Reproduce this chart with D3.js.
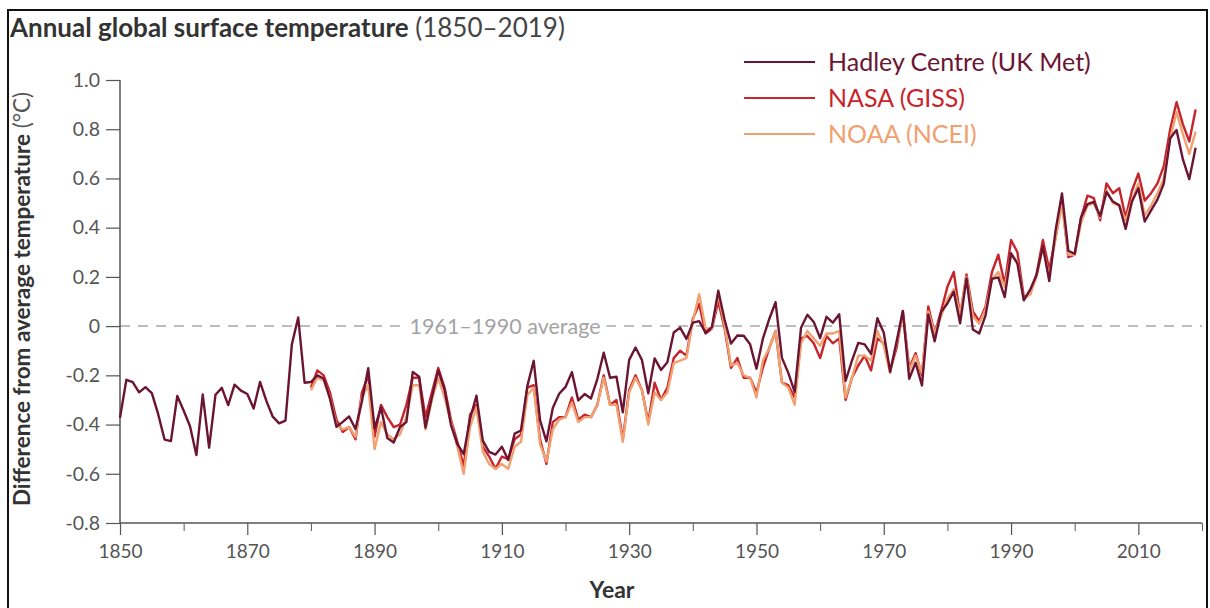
<!DOCTYPE html>
<html><head><meta charset="utf-8">
<script src="https://cdn.jsdelivr.net/npm/d3@7"></script>
<style>
html,body{margin:0;padding:0;background:#fff;}
svg{display:block;font-family:Lato,"Noto Sans",sans-serif;}
</style></head>
<body>
<svg id="chart" width="1210" height="608"></svg>
<script>
// ---- data ----
const hadleyStart = 1850;
const hadley = [-0.373,-0.218,-0.228,-0.269,-0.248,-0.272,-0.358,-0.461,-0.467,-0.284,
-0.343,-0.407,-0.524,-0.278,-0.494,-0.279,-0.251,-0.321,-0.238,-0.262,
-0.276,-0.335,-0.227,-0.304,-0.368,-0.395,-0.384,-0.075,0.035,-0.230,
-0.227,-0.200,-0.213,-0.296,-0.409,-0.389,-0.367,-0.418,-0.307,-0.171,
-0.416,-0.330,-0.455,-0.473,-0.410,-0.390,-0.186,-0.206,-0.412,-0.289,
-0.180,-0.259,-0.402,-0.479,-0.520,-0.377,-0.283,-0.465,-0.511,-0.522,
-0.490,-0.544,-0.437,-0.424,-0.244,-0.141,-0.383,-0.468,-0.333,-0.275,
-0.247,-0.187,-0.302,-0.276,-0.294,-0.215,-0.108,-0.210,-0.206,-0.350,
-0.137,-0.087,-0.137,-0.273,-0.131,-0.178,-0.147,-0.026,-0.006,-0.052,
0.014,0.020,-0.027,-0.004,0.144,0.025,-0.071,-0.038,-0.039,-0.074,
-0.173,-0.052,0.028,0.097,-0.129,-0.190,-0.267,-0.007,0.046,0.017,
-0.049,0.038,0.014,0.048,-0.223,-0.140,-0.068,-0.074,-0.113,0.032,
-0.027,-0.186,-0.065,0.062,-0.214,-0.149,-0.241,0.047,-0.062,0.057,
0.092,0.140,0.011,0.194,-0.014,-0.030,0.045,0.192,0.198,0.118,
0.296,0.254,0.105,0.148,0.208,0.325,0.183,0.390,0.539,0.306,
0.294,0.441,0.496,0.505,0.447,0.545,0.506,0.491,0.395,0.506,
0.560,0.425,0.470,0.514,0.579,0.763,0.797,0.677,0.597,0.725];

const nasaStart = 1880;
const nasa = [-0.25,-0.18,-0.20,-0.27,-0.38,-0.43,-0.41,-0.46,-0.27,-0.20,
-0.45,-0.32,-0.37,-0.41,-0.40,-0.32,-0.21,-0.21,-0.37,-0.27,
-0.17,-0.25,-0.38,-0.47,-0.57,-0.36,-0.32,-0.49,-0.53,-0.58,
-0.53,-0.54,-0.46,-0.44,-0.25,-0.24,-0.46,-0.56,-0.39,-0.37,
-0.37,-0.29,-0.38,-0.36,-0.37,-0.32,-0.20,-0.32,-0.30,-0.46,
-0.26,-0.20,-0.26,-0.39,-0.23,-0.30,-0.25,-0.13,-0.10,-0.12,
0.03,0.09,-0.03,-0.01,0.10,-0.01,-0.17,-0.13,-0.21,-0.21,
-0.27,-0.17,-0.09,-0.02,-0.23,-0.24,-0.29,-0.05,-0.04,-0.07,
-0.13,-0.04,-0.07,-0.05,-0.30,-0.21,-0.16,-0.12,-0.18,-0.05,
-0.07,-0.18,-0.09,0.06,-0.17,-0.11,-0.20,0.08,-0.03,0.06,
0.16,0.22,0.04,0.21,0.06,0.02,0.08,0.22,0.29,0.17,
0.35,0.30,0.12,0.13,0.21,0.35,0.23,0.36,0.51,0.28,
0.29,0.44,0.53,0.52,0.43,0.58,0.54,0.56,0.44,0.55,
0.62,0.51,0.54,0.58,0.65,0.80,0.91,0.82,0.75,0.88];

const noaaStart = 1880;
const noaa = [-0.26,-0.21,-0.22,-0.29,-0.40,-0.42,-0.41,-0.45,-0.29,-0.24,
-0.50,-0.39,-0.44,-0.46,-0.44,-0.37,-0.24,-0.24,-0.42,-0.30,
-0.21,-0.29,-0.39,-0.49,-0.60,-0.41,-0.33,-0.51,-0.56,-0.58,
-0.56,-0.58,-0.49,-0.47,-0.28,-0.25,-0.48,-0.55,-0.42,-0.38,
-0.37,-0.31,-0.39,-0.37,-0.37,-0.32,-0.21,-0.32,-0.32,-0.47,
-0.27,-0.21,-0.26,-0.40,-0.27,-0.30,-0.27,-0.15,-0.14,-0.13,
0.02,0.13,-0.01,-0.01,0.13,0.00,-0.16,-0.15,-0.20,-0.21,
-0.29,-0.14,-0.09,-0.02,-0.23,-0.25,-0.32,-0.07,-0.02,-0.05,
-0.08,-0.03,-0.03,-0.02,-0.29,-0.21,-0.12,-0.12,-0.14,-0.02,
-0.08,-0.19,-0.07,0.05,-0.18,-0.12,-0.19,0.06,-0.03,0.04,
0.11,0.15,0.05,0.20,0.04,0.01,0.07,0.19,0.22,0.16,
0.29,0.26,0.11,0.13,0.20,0.32,0.20,0.36,0.49,0.29,
0.29,0.42,0.49,0.50,0.44,0.55,0.50,0.49,0.43,0.51,
0.58,0.45,0.49,0.54,0.60,0.76,0.87,0.78,0.70,0.79];

const seriesNames = ["Hadley Centre (UK Met)", "NASA (GISS)", "NOAA (NCEI)"];
const seriesColors = ["#6b1533", "#c8242c", "#f1a06f"];
const yTicks = [-0.8,-0.6,-0.4,-0.2,0,0.2,0.4,0.6,0.8,1.0];
const yTickLabels = ["-0.8","-0.6","-0.4","-0.2","0","0.2","0.4","0.6","0.8","1.0"];
const xMajorTicks = [1850,1870,1890,1910,1930,1950,1970,1990,2010];
const xMinorTicks = [1860,1880,1900,1920,1940,1960,1980,2000,2020];

// ---- chart ----
const svg = d3.select("#chart");
const x = d3.scaleLinear().domain([1850, 2020]).range([120, 1202]);
const y = d3.scaleLinear().domain([-0.8, 1.0]).range([523, 80]);

// frame
svg.append("rect").attr("x",8).attr("y",10).attr("width",1199).attr("height",640)
  .attr("fill","none").attr("stroke","#111").attr("stroke-width",2);

// title
const title = svg.append("text").attr("x",10).attr("y",37)
  .attr("font-size",26).attr("fill","#333");
title.append("tspan").attr("font-weight","bold").text("Annual global surface temperature");
title.append("tspan").attr("font-weight","normal").attr("fill","#444").text(" (1850\u20132019)");

// zero line
svg.append("line").attr("x1",x(1850)).attr("x2",x(2020)).attr("y1",y(0)).attr("y2",y(0))
  .attr("stroke","#bdbdbd").attr("stroke-width",2).attr("stroke-dasharray","10,8");
const avgLbl = svg.append("text").attr("x",505).attr("y",y(0)+8)
  .attr("text-anchor","middle").attr("font-size",21.5).attr("fill","#a3a3a3")
  .text("1961\u20131990 average");
const bb = avgLbl.node().getBBox();
svg.append("rect").attr("x",bb.x-6).attr("y",bb.y).attr("width",bb.width+12).attr("height",bb.height)
  .attr("fill","#fff");
avgLbl.raise();

// axes
const yAxis = d3.axisLeft(y).tickValues(yTicks).tickSize(14).tickPadding(6)
  .tickFormat((d,i)=>yTickLabels[i]);
const gy = svg.append("g").attr("transform",`translate(${x(1850)},0)`).call(yAxis);
gy.select(".domain").attr("stroke","#555").attr("stroke-width",1.5).attr("d",`M0,${y(1.0)}V${y(-0.8)}`);
gy.selectAll(".tick line").attr("stroke","#555").attr("stroke-width",1.2);
gy.selectAll(".tick text").attr("font-size",19.5).attr("fill","#555").attr("font-family","Lato,sans-serif");

const xAxis = d3.axisBottom(x).tickValues(xMajorTicks).tickSize(12).tickPadding(10).tickFormat(d3.format("d"));
const gx = svg.append("g").attr("transform",`translate(0,${y(-0.8)})`).call(xAxis);
gx.select(".domain").attr("stroke","#555").attr("stroke-width",1.5).attr("d",`M${x(1850)},0H${x(2020)}`);
gx.selectAll(".tick line").attr("stroke","#555").attr("stroke-width",1.2);
gx.selectAll(".tick text").attr("font-size",19).attr("fill","#555").attr("font-family","Lato,sans-serif");
const xAxisMinor = d3.axisBottom(x).tickValues(xMinorTicks).tickSize(8).tickFormat("");
const gxm = svg.append("g").attr("transform",`translate(0,${y(-0.8)})`).call(xAxisMinor);
gxm.select(".domain").remove();
gxm.selectAll(".tick line").attr("stroke","#666").attr("stroke-width",1.1);

// axis titles
svg.append("text").attr("x",612).attr("y",598).attr("text-anchor","middle")
  .attr("font-size",23).attr("font-weight","bold").attr("fill","#333").text("Year");
const yt = svg.append("text").attr("transform","translate(30,299) rotate(-90)")
  .attr("text-anchor","middle").attr("font-size",22.5).attr("fill","#333");
yt.append("tspan").attr("font-weight","bold").text("Difference from average temperature");
yt.append("tspan").attr("font-weight","normal").attr("fill","#555").text(" (\u00b0C)");

// lines
const line = d3.line().x(d=>x(d.year)).y(d=>y(d.value));
function toPts(start, vals){ return vals.map((v,i)=>({year:start+i, value:v})); }
const series = [
  {name:seriesNames[1], color:seriesColors[1], pts:toPts(nasaStart, nasa)},
  {name:seriesNames[2], color:seriesColors[2], pts:toPts(noaaStart, noaa)},
  {name:seriesNames[0], color:seriesColors[0], pts:toPts(hadleyStart, hadley)}
];
svg.append("g").selectAll("path").data(series).join("path")
  .attr("d",d=>line(d.pts)).attr("fill","none").attr("stroke",d=>d.color)
  .attr("stroke-width",2.4).attr("stroke-linejoin","round");

// legend
const lg = svg.append("g");
seriesNames.forEach((n,i)=>{
  const yy = 62 + i*36;
  lg.append("line").attr("x1",744).attr("x2",815).attr("y1",yy).attr("y2",yy)
    .attr("stroke",seriesColors[i]).attr("stroke-width",2.2);
  lg.append("text").attr("x",828).attr("y",yy+9).attr("font-size",25)
    .attr("fill",seriesColors[i]).text(n);
});
</script>
</body></html>
